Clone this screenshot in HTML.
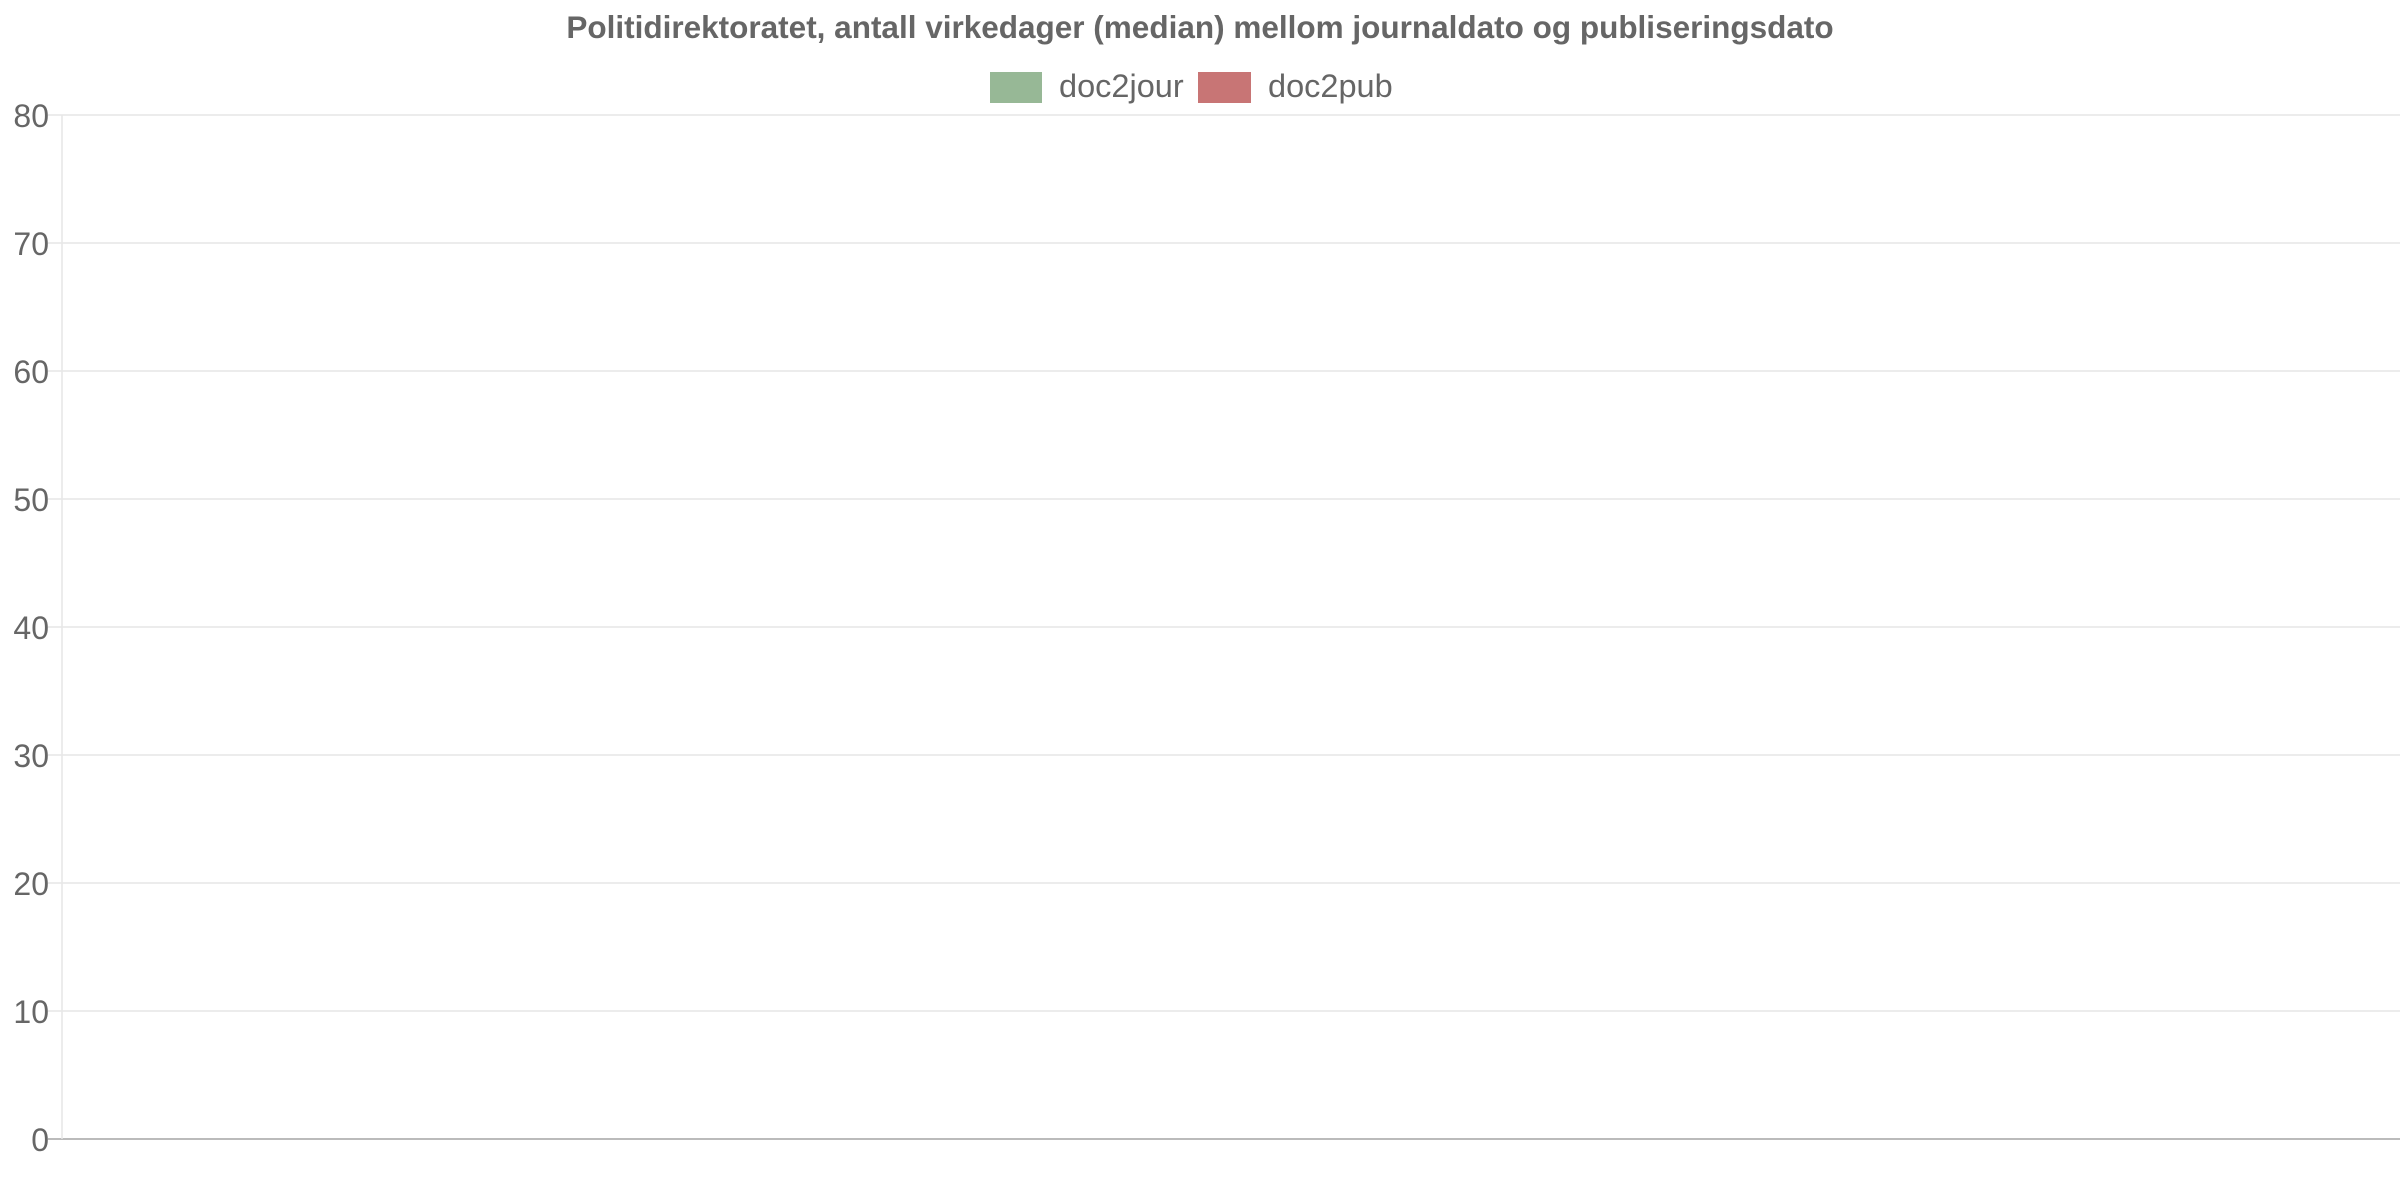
<!DOCTYPE html>
<html><head><meta charset="utf-8"><style>
html,body{margin:0;padding:0;background:#fff;}
svg{display:block;font-family:"Liberation Sans",Arial,sans-serif;}
</style></head><body>
<svg id="chart" width="2400" height="1200">
<text x="1200" y="38" text-anchor="middle" font-size="31.5" font-weight="bold" fill="#666">Politidirektoratet, antall virkedager (median) mellom journaldato og publiseringsdato</text>
<g>
<g>
<rect x="990" y="72" width="52" height="31" fill="#97b896"/>
<text x="1059" y="97" font-size="32.5" fill="#666">doc2jour</text>
</g>
<g>
<rect x="1198" y="72" width="53" height="31" fill="#c87575"/>
<text x="1268" y="97" font-size="32.5" fill="#666">doc2pub</text>
</g>
</g>
<g id="grid"></g>
<g id="yticks"></g>
<g id="bars"></g>
</svg>
<script>
const categories = [];
const doc2jour = [];
const doc2pub = [];
const yTicks = [0,10,20,30,40,50,60,70,80];

const NS="http://www.w3.org/2000/svg";
const L=62,R=2400,T=115,B=1139,yMax=80;
function y(v){return B-(v/yMax)*(B-T);}
function x(i){return L+(R-L)*(i+0.5)/Math.max(categories.length,1);}
const grid=document.getElementById('grid'),yt=document.getElementById('yticks'),bars=document.getElementById('bars');
yTicks.forEach(t=>{
  const ln=document.createElementNS(NS,'line');
  ln.setAttribute('x1',48);ln.setAttribute('x2',R);
  ln.setAttribute('y1',y(t));ln.setAttribute('y2',y(t));
  ln.setAttribute('stroke',t===0?'#bbb':'#e6e6e6');ln.setAttribute('stroke-width',t===0?2:1.5);
  
  
  grid.appendChild(ln);
  const tx=document.createElementNS(NS,'text');
  tx.setAttribute('x',49);tx.setAttribute('y',y(t)+12);
  tx.setAttribute('text-anchor','end');tx.setAttribute('font-size','32');tx.setAttribute('fill','#666');
  tx.textContent=t;
  
  
  yt.appendChild(tx);
});
const ax=document.createElementNS(NS,'line');
ax.setAttribute('x1',L);ax.setAttribute('x2',L);ax.setAttribute('y1',T);ax.setAttribute('y2',B);
ax.setAttribute('stroke','#e6e6e6');ax.setAttribute('stroke-width',1.5);


yt.appendChild(ax);
const bw=categories.length?(R-L)/categories.length*0.4:0;
categories.forEach((c,i)=>{
  [[doc2jour,'#97b896',-1],[doc2pub,'#c87575',0]].forEach(([arr,col,off])=>{
    const r=document.createElementNS(NS,'rect');
    r.setAttribute('x',x(i)+off*bw);r.setAttribute('width',bw);
    r.setAttribute('y',y(arr[i]));r.setAttribute('height',B-y(arr[i]));
    r.setAttribute('fill',col);
    
    
    bars.appendChild(r);
  });
});
</script>
</body></html>
